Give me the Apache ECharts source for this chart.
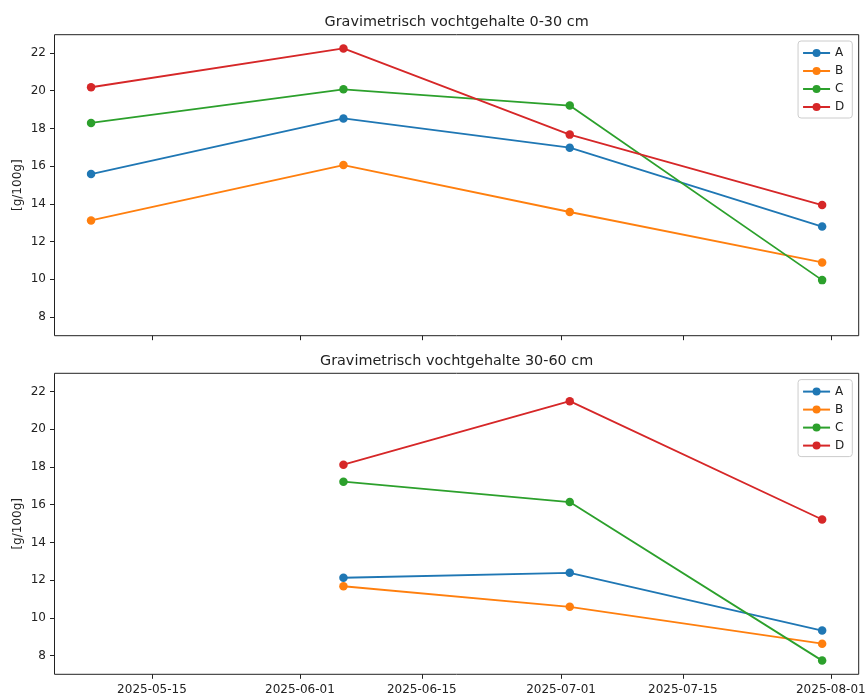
<!DOCTYPE html>
<html><head><meta charset="utf-8">
<script src="https://cdn.jsdelivr.net/npm/echarts@6/dist/echarts.min.js"></script>
<style>html,body{margin:0;padding:0;background:#fff}#c{width:865px;height:695px}</style>
</head><body><div id="c"></div>
<script>
const dates = ['2025-05-08','2025-06-06','2025-07-02','2025-07-31'];
const seriesNames = ['A','B','C','D'];
const colors = ['#1f77b4','#ff7f0e','#2ca02c','#d62728'];
// 0-30 cm
const top_A = [15.58, 18.53, 16.98, 12.80];
const top_B = [13.12, 16.06, 13.57, 10.90];
const top_C = [18.29, 20.07, 19.21, 9.96];
const top_D = [20.18, 22.24, 17.67, 13.94];
// 30-60 cm
const bot_A = [null, 12.13, 12.39, 9.33];
const bot_B = [null, 11.68, 10.59, 8.64];
const bot_C = [null, 17.22, 16.14, 7.74];
const bot_D = [null, 18.12, 21.49, 15.22];
const xTickLabels = ['2025-05-15','2025-06-01','2025-06-15','2025-07-01','2025-07-15','2025-08-01'];
const yTicks = [8, 10, 12, 14, 16, 18, 20, 22];
const titles = ['Gravimetrisch vochtgehalte 0-30 cm', 'Gravimetrisch vochtgehalte 30-60 cm'];
const yLabel = '[g/100g]';

const toTs = d => Date.parse(d + 'T00:00:00Z');
const fmt = v => new Date(v).toISOString().slice(0, 10);
const ts = dates.map(toTs);
const xSpan = ts[ts.length - 1] - ts[0];
const xMin = ts[0] - 0.05 * xSpan, xMax = ts[ts.length - 1] + 0.05 * xSpan;
const topSets = [top_A, top_B, top_C, top_D];
const botSets = [bot_A, bot_B, bot_C, bot_D];
const allVals = topSets.concat(botSets).flat().filter(v => v != null);
const vMin = Math.min(...allVals), vMax = Math.max(...allVals);
const yMin = vMin - 0.05 * (vMax - vMin), yMax = vMax + 0.05 * (vMax - vMin);

const FONT = 'DejaVu Sans';
const TXT = '#222';
const gridTops = [34.7, 373.3];
const tickVals = xTickLabels.map(toTs);

function mkX(i) {
  return {
    type: 'value', gridIndex: i, min: xMin, max: xMax,
    axisLine: { show: false },
    splitLine: { show: false },
    axisTick: { show: true, inside: false, length: 4.5, customValues: tickVals, lineStyle: { color: TXT, width: 1 } },
    axisLabel: { show: i === 1, customValues: tickVals, formatter: fmt, margin: 10, fontFamily: FONT, fontSize: 12, color: TXT, hideOverlap: false }
  };
}
function mkY(i) {
  return {
    type: 'value', gridIndex: i, min: yMin, max: yMax,
    name: yLabel, nameLocation: 'middle', nameRotate: 90, nameGap: 31, nameMoveOverlap: false,
    nameTextStyle: { fontFamily: FONT, fontSize: 12, color: TXT },
    axisLine: { show: false },
    splitLine: { show: false },
    axisTick: { show: true, inside: false, length: 4.5, customValues: yTicks, lineStyle: { color: TXT, width: 1 } },
    axisLabel: { customValues: yTicks, margin: 8.5, fontFamily: FONT, fontSize: 12, color: TXT }
  };
}
const series = [];
[topSets, botSets].forEach((sets, gi) => {
  sets.forEach((vals, k) => {
    series.push({
      type: 'line', name: seriesNames[k], xAxisIndex: gi, yAxisIndex: gi,
      data: vals.map((v, j) => [ts[j], v]).filter(p => p[1] != null),
      symbol: 'circle', symbolSize: 8.5, showSymbol: true,
      itemStyle: { color: colors[k] },
      lineStyle: { color: colors[k], width: 1.8 },
      emphasis: { disabled: true }
    });
  });
});
function mkLegend(i) {
  return {
    data: seriesNames, orient: 'vertical', right: 12.7, top: gridTops[i] + 6.3,
    itemWidth: 27, itemHeight: 10, itemGap: 6,
    padding: [6, 8, 5, 4],
    backgroundColor: 'rgba(255,255,255,0.8)', borderColor: '#ccc', borderWidth: 1, borderRadius: 3,
    textStyle: { fontFamily: FONT, fontSize: 12, color: TXT },
    selectedMode: false
  };
}
const chart = echarts.init(document.getElementById('c'), null, { renderer: 'canvas' });
chart.setOption({
  animation: false,
  color: colors,
  title: titles.map((t, i) => ({
    text: t, left: 456.6, textAlign: 'center', top: [14.5, 353.3][i], padding: 0,
    textStyle: { fontFamily: FONT, fontSize: 14.4, fontWeight: 'normal', color: TXT, lineHeight: 16 }
  })),
  grid: gridTops.map(t => ({ left: 54.5, right: 6.3, top: t, height: 301, show: true, borderColor: TXT, borderWidth: 1, backgroundColor: 'transparent', containLabel: false, outerBoundsMode: 'none' })),
  xAxis: [mkX(0), mkX(1)],
  yAxis: [mkY(0), mkY(1)],
  legend: [mkLegend(0), mkLegend(1)],
  series: series
});
</script></body></html>
